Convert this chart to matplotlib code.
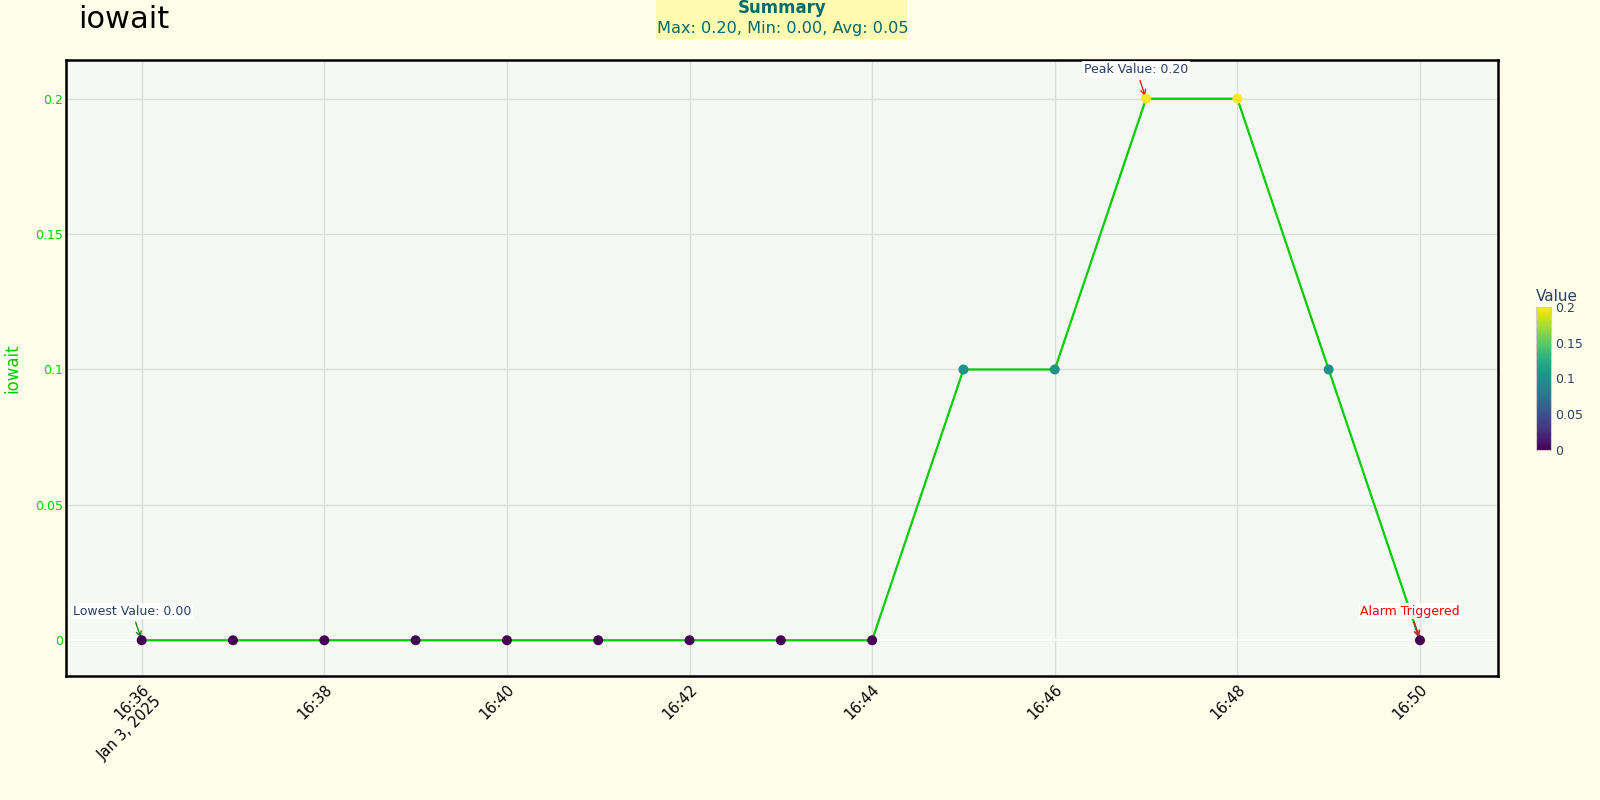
import numpy as np
import pandas as pd
import matplotlib.pyplot as plt
import matplotlib as mpl
from matplotlib.patches import Rectangle

# data
times = pd.date_range('2025-01-03 16:36', '2025-01-03 16:50', freq='1min')
values = [0, 0, 0, 0, 0, 0, 0, 0, 0, 0.1, 0.1, 0.2, 0.2, 0.1, 0]
tick_times = pd.date_range('2025-01-03 16:36', '2025-01-03 16:50', freq='2min')
tick_labels = ['16:36\nJan 3, 2025', '16:38', '16:40', '16:42', '16:44', '16:46', '16:48', '16:50']
y_ticks = [0, 0.05, 0.1, 0.15, 0.2]
y_tick_labels = ['0', '0.05', '0.1', '0.15', '0.2']

vals = np.array(values)
bg = '#fefeeb'
green = '#00cc00'
navy = '#2a3f5f'

fig = plt.figure(figsize=(16, 8), dpi=100, facecolor=bg)
ax = fig.add_axes([0.041, 0.155, 0.895, 0.77])
ax.set_facecolor('#f5f8f3')

ax.plot(times, vals, color=green, lw=1.6, zorder=3)
norm = mpl.colors.Normalize(vmin=0, vmax=0.2)
sc = ax.scatter(times, vals, c=vals, cmap='viridis', norm=norm, s=38, zorder=4)

ax.set_xlim(pd.Timestamp('2025-01-03 16:35:10'), pd.Timestamp('2025-01-03 16:50:51'))
ax.set_ylim(-0.0132, 0.2143)
ax.set_xticks(tick_times)
ax.set_xticklabels(tick_labels, rotation=45, ha='right', rotation_mode='anchor', fontsize=10.5)
ax.set_yticks(y_ticks)
ax.set_yticklabels(y_tick_labels, color=green, fontsize=9)
ax.tick_params(axis='y', length=0, pad=2)
ax.tick_params(axis='x', length=0, pad=4)
ax.grid(True, color='#dddddd', lw=1)
ax.axhline(0, color='white', lw=1.5, zorder=2)
ax.set_axisbelow(True)
for s in ax.spines.values():
    s.set_linewidth(1.8)
    s.set_color('black')
ax.set_ylabel('iowait', color=green, fontsize=12)
ax.yaxis.set_label_coords(-0.031, 0.5)

box = dict(boxstyle='square,pad=0.15', fc='white', ec='none', alpha=0.9)
ax.annotate('Lowest Value: 0.00', xy=(times[0], 0), xytext=(-7, 21), textcoords='offset points',
            ha='center', va='center', fontsize=9, color=navy, bbox=box,
            arrowprops=dict(arrowstyle='->', color='green', lw=0.9, shrinkA=2, shrinkB=2))
ax.annotate('Peak Value: 0.20', xy=(times[11], 0.2), xytext=(-7, 21), textcoords='offset points',
            ha='center', va='center', fontsize=9, color=navy, bbox=box,
            arrowprops=dict(arrowstyle='->', color='red', lw=0.9, shrinkA=2, shrinkB=2))
ax.annotate('Alarm Triggered', xy=(times[14], 0), xytext=(-7, 21), textcoords='offset points',
            ha='center', va='center', fontsize=9, color='red', bbox=box,
            arrowprops=dict(arrowstyle='->', color='#b03030', lw=1.2, shrinkA=2, shrinkB=2))

fig.text(0.049, 0.975, 'iowait', fontsize=22, va='center', ha='left')
fig.patches.append(Rectangle((0.41, 0.951), 0.157, 0.049, transform=fig.transFigure,
                             fc='#fffbb0', ec='none', zorder=0))
fig.text(0.489, 0.99, 'Summary', fontsize=12, fontweight='bold', color='#006b6b',
         ha='center', va='center')
fig.text(0.489, 0.964, 'Max: 0.20, Min: 0.00, Avg: 0.05', fontsize=11.6, color='#006b6b',
         ha='center', va='center')

cax = fig.add_axes([0.96, 0.4375, 0.0095, 0.179])
cb = fig.colorbar(sc, cax=cax, ticks=y_ticks)
cb.ax.set_yticklabels(y_tick_labels, color=navy, fontsize=9)
cb.ax.tick_params(length=0, pad=3)
cb.outline.set_edgecolor('#cccccc')
cb.ax.set_title('Value', color=navy, fontsize=11, pad=4, loc='left')

fig.savefig('out.png', dpi=100, facecolor=bg)
